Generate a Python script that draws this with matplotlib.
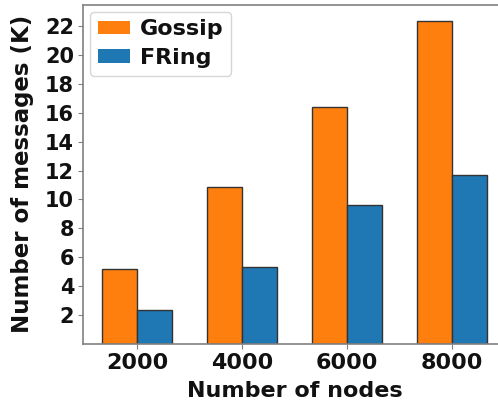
import numpy as np
import matplotlib
matplotlib.use("Agg")
import matplotlib.pyplot as plt

nodes = ["2000", "4000", "6000", "8000"]
gossip = [5.2, 10.85, 16.4, 22.35]
fring = [2.35, 5.3, 9.6, 11.7]

plt.rcParams["font.family"] = ["DejaVu Sans"]
plt.rcParams["font.weight"] = "bold"

fig = plt.figure(figsize=(4.98, 4.05), dpi=100)
ax = fig.add_axes([0.167, 0.151, 0.849, 0.837])

x = np.arange(1, len(nodes) + 1)
w = 0.33
ax.bar(x - w / 2, gossip, w, color="#ff7f0e", edgecolor="#333333", linewidth=1.0, label="Gossip")
ax.bar(x + w / 2, fring, w, color="#1f77b4", edgecolor="#333333", linewidth=1.0, label="FRing")

ax.set_xticks(x)
ax.set_xticklabels(nodes)
ax.set_yticks(np.arange(2, 23, 2))
ax.tick_params(colors="#111111", color="#808080")
ax.tick_params(axis="x", labelsize=16, pad=3)
ax.tick_params(axis="y", labelsize=15, pad=3)
for lbl in ax.get_xticklabels() + ax.get_yticklabels():
    lbl.set_fontweight("bold")

ax.set_xlabel("Number of nodes", fontsize=16, fontweight="bold", labelpad=6, color="#111111")
ax.set_ylabel("Number of messages (K)", fontsize=16.5, fontweight="bold", labelpad=8, color="#111111")

for s in ax.spines.values():
    s.set_color("#808080")
    s.set_linewidth(1.2)

leg = ax.legend(loc="upper left", prop={"weight": "bold", "size": 16},
                handlelength=1.45, handleheight=0.55, borderpad=0.35,
                labelspacing=0.38, borderaxespad=0.3, handletextpad=0.45)
for h in leg.legend_handles:
    h.set_edgecolor("none")
for t in leg.get_texts():
    t.set_color("#111111")

fig.savefig("out.png", dpi=100)
